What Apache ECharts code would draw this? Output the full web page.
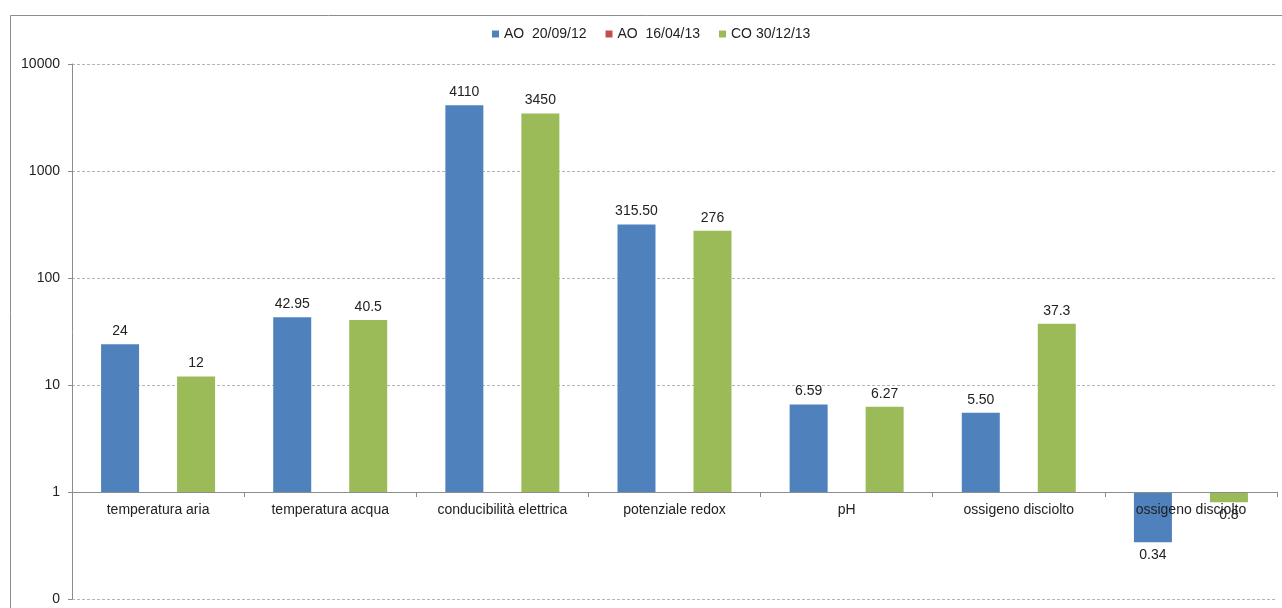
<!DOCTYPE html>
<html>
<head>
<meta charset="utf-8">
<script src="https://cdn.jsdelivr.net/npm/echarts@6/dist/echarts.min.js"></script>
<style>
  html, body { margin: 0; padding: 0; background: #fff; }
  #chart { width: 1282px; height: 608px; }
</style>
</head>
<body>
<div id="chart"></div>
<script>
const categories = [
  'temperatura aria',
  'temperatura acqua',
  'conducibilità elettrica',
  'potenziale redox',
  'pH',
  'ossigeno disciolto',
  'ossigeno disciolto'
]
const seriesNames = ['AO  20/09/12', 'AO  16/04/13', 'CO 30/12/13']
const ao2012 = [24, 42.95, 4110, 315.5, 6.59, 5.5, 0.34]
const ao2012Labels = ['24', '42.95', '4110', '315.50', '6.59', '5.50', '0.34']
const ao2013 = [null, null, null, null, null, null, null]
const co2013 = [12, 40.5, 3450, 276, 6.27, 37.3, 0.8]
const co2013Labels = ['12', '40.5', '3450', '276', '6.27', '37.3', '0.8']

const colors = ['#4F81BD', '#C0504D', '#9BBB59']
const font = '"Liberation Sans", Arial, sans-serif'
const textColor = '#222'

const toItems = (values, labels) =>
  values.map((v, i) => ({
    value: v,
    label: {
      position: v < 1 ? 'bottom' : 'top',
      formatter: labels[i],
    },
  }))

const barBase = {
  type: 'bar',
  barWidth: 38,
  barGap: '0%',
  label: {
    show: true,
    distance: 6,
    color: textColor,
    fontSize: 14,
    fontFamily: font,
  },
}

const chart = echarts.init(document.getElementById('chart'))
chart.setOption({
  animation: false,
  color: colors,
  textStyle: { fontFamily: font },
  graphic: [
    {
      type: 'rect',
      shape: { x: 10.5, y: 15.5, width: 1290, height: 620 },
      style: { fill: 'none', stroke: '#8c8c8c', lineWidth: 1 },
      silent: true,
    },
  ],
  legend: {
    top: 22,
    left: 487,
    itemWidth: 7,
    itemHeight: 7,
    itemGap: 19,
    icon: 'rect',
    textStyle: { fontSize: 14, color: textColor, fontFamily: font },
    data: seriesNames,
  },
  grid: {
    left: 72,
    right: 5,
    top: 64,
    bottom: 9,
    containLabel: false,
  },
  xAxis: {
    type: 'category',
    data: categories,
    offset: -107,
    z: 5,
    axisLine: { onZero: false, lineStyle: { color: '#8c8c8c' } },
    axisTick: { show: true, length: 5, lineStyle: { color: '#8c8c8c' } },
    axisLabel: { color: textColor, fontSize: 14, margin: 11, fontFamily: font, interval: 0 },
    splitLine: { show: false },
  },
  yAxis: {
    type: 'log',
    logBase: 10,
    min: 0.1,
    max: 10000,
    axisLine: { show: true, lineStyle: { color: '#8c8c8c' } },
    axisTick: { show: true, length: 4, lineStyle: { color: '#8c8c8c' } },
    axisLabel: {
      color: textColor,
      fontSize: 14,
      margin: 12,
      fontFamily: font,
      formatter: (v) => (v < 1 ? '0' : String(Math.round(v))),
    },
    splitLine: { show: true, lineStyle: { color: '#b4b4b4', type: [3, 2] } },
  },
  series: [
    { ...barBase, name: seriesNames[0], data: toItems(ao2012, ao2012Labels) },
    { ...barBase, name: seriesNames[1], data: ao2013 },
    { ...barBase, name: seriesNames[2], data: toItems(co2013, co2013Labels) },
  ],
})
</script>
</body>
</html>
